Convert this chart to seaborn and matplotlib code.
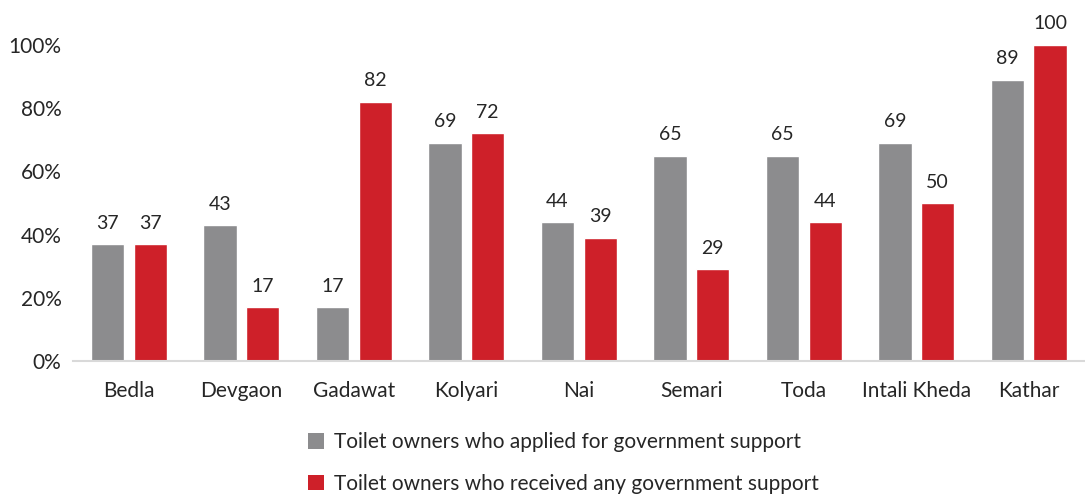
import matplotlib
matplotlib.use("Agg")
import matplotlib.pyplot as plt
import seaborn as sns
import pandas as pd
from matplotlib.patches import Patch

villages = ["Bedla", "Devgaon", "Gadawat", "Kolyari", "Nai", "Semari", "Toda", "Intali Kheda", "Kathar"]
applied = [37, 43, 17, 69, 44, 65, 65, 69, 89]
received = [37, 17, 82, 72, 39, 29, 44, 50, 100]
series_names = ["Toilet owners who applied for government support",
                "Toilet owners who received any government support"]
colors = ["#8C8C8E", "#CE2029"]

df = pd.DataFrame({
    "village": villages * 2,
    "value": applied + received,
    "series": [series_names[0]] * len(villages) + [series_names[1]] * len(villages),
})

sns.set_theme(style="white")
plt.rcParams["font.family"] = ["Lato", "DejaVu Sans"]
text_color = "#262626"

fig = plt.figure(figsize=(10.85, 4.94), dpi=100)
ax = fig.add_axes([0.067, 0.269, 0.933, 0.640])

sns.barplot(data=df, x="village", y="value", hue="series", palette=colors,
            hue_order=series_names, order=villages, width=0.76, gap=0.22,
            saturation=1, ax=ax, legend=False)

for container in ax.containers:
    ax.bar_label(container, fmt="%d", padding=9, fontsize=14, color=text_color)

ax.set_ylim(0, 100)
ax.set_xlim(-0.5, len(villages) - 0.5)
ax.set_yticks(range(0, 101, 20))
ax.set_yticklabels([f"{v}%" for v in range(0, 101, 20)])
ax.set_xlabel("")
ax.set_ylabel("")
ax.tick_params(axis="both", length=0, labelsize=15, colors=text_color)
ax.tick_params(axis="y", pad=8)
ax.tick_params(axis="x", pad=14)
for side in ["top", "right", "left"]:
    ax.spines[side].set_visible(False)
ax.spines["bottom"].set_color("#D9D9D9")
ax.spines["bottom"].set_linewidth(1.5)

handles = [Patch(facecolor=c, edgecolor="none") for c in colors]
fig.legend(handles, series_names, loc="upper left", bbox_to_anchor=(0.284, 0.125),
           ncol=1, frameon=False, fontsize=15, handlelength=0.75, handleheight=0.75,
           handletextpad=0.5, labelspacing=1.05, borderaxespad=0, borderpad=0,
           labelcolor=text_color)

fig.savefig("out.png", dpi=100)
